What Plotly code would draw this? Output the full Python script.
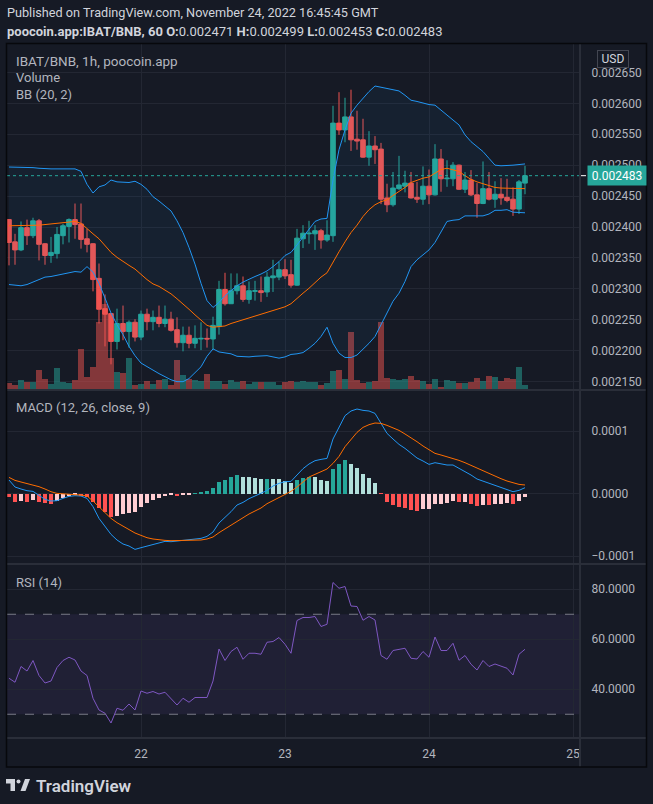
import pandas as pd
import plotly.graph_objects as go
from plotly.subplots import make_subplots

# ---------------- data (prices in millionths of BNB) ----------------
PRICE_UNIT = 1e-6
MACD_UNIT = 1e-6
start_time = "2022-11-21 02:00"

open_u = [2412,2376,2363,2399,2386,2410,2373,2354,2357,2386,2401,2412,2405,2381,2373,2317,2268,2260,2215,2244,
          2231,2246,2222,2259,2247,2254,2244,2251,2234,2213,2225,2212,2219,2220,2219,2239,2299,2276,2297,2305,
          2283,2296,2297,2295,2318,2319,2331,2323,2306,2381,2389,2389,2394,2379,2386,2568,2557,2578,2542,2541,
          2513,2531,2526,2447,2436,2462,2466,2471,2448,2445,2466,2452,2510,2478,2478,2500,2461,2476,2452,2438,
          2462,2445,2453,2448,2445,2429,2471]
high_u = [2413,2389,2409,2412,2415,2413,2374,2384,2400,2405,2414,2438,2438,2397,2374,2341,2291,2261,2268,2273,
          2249,2251,2265,2268,2265,2273,2273,2263,2254,2239,2239,2241,2246,2236,2255,2313,2326,2325,2325,2320,
          2312,2313,2320,2327,2347,2344,2348,2347,2397,2403,2410,2403,2397,2411,2596,2618,2609,2622,2588,2575,
          2555,2547,2536,2470,2489,2515,2491,2489,2473,2498,2493,2534,2526,2508,2505,2501,2489,2492,2471,2506,
          2489,2474,2479,2478,2464,2476,2499]
low_u = [2338,2339,2361,2371,2382,2346,2339,2342,2349,2372,2375,2381,2365,2359,2296,2244,2207,2178,2202,2217,
         2205,2215,2217,2233,2233,2238,2238,2231,2205,2199,2204,2204,2201,2205,2202,2226,2273,2276,2291,2279,
         2276,2281,2279,2287,2295,2314,2316,2302,2305,2366,2373,2363,2365,2376,2376,2549,2537,2523,2525,2512,
         2499,2502,2437,2424,2433,2460,2456,2446,2439,2436,2437,2451,2457,2465,2466,2460,2455,2450,2415,2437,
         2443,2431,2436,2440,2418,2421,2453]
close_u = [2375,2363,2399,2386,2410,2372,2354,2359,2388,2402,2412,2404,2380,2372,2315,2267,2259,2215,2244,2231,
           2246,2222,2259,2247,2254,2244,2251,2233,2213,2225,2212,2220,2220,2219,2241,2299,2276,2297,2305,2283,
           2297,2297,2294,2319,2321,2331,2321,2306,2382,2390,2390,2394,2379,2387,2568,2557,2578,2541,2539,2513,
           2531,2525,2445,2436,2463,2468,2471,2447,2445,2466,2452,2510,2478,2479,2500,2461,2476,2452,2438,2462,
           2445,2453,2447,2443,2429,2473,2483]
volume = [7,5,10,8,8,20,11,6,22,8, 7,10,41,13,23,68,86,32,18,17,
          32,5,6,9,6,10,11,5,30,15, 11,10,9,16,9,9,6,10,8,9,
          6,8,8,8,8,5,8,9,8,9, 8,8,5,7,19,20,11,58,10,7,
          8,9,68,12,11,10,11,14,10,9, 6,11,3,10,9,7,7,8,12,9,
          14,13,9,12,11,23,5]
bb_upper_u = [2497,2497,2497,2497,2496,2495,2494,2494,2494,2494,2494,2494,2490,2469,2455,2465,2468,2476,2473,2472,
              2472,2474,2469,2461,2449,2442,2434,2426,2410,2391,2367,2340,2309,2281,2270,2278,2289,2297,2305,2311,
              2316,2320,2324,2329,2336,2344,2354,2359,2371,2384,2395,2409,2413,2414,2476,2525,2557,2584,2597,2608,
              2619,2628,2626,2624,2623,2620,2613,2605,2603,2600,2598,2597,2589,2581,2573,2565,2549,2538,2530,2522,
              2511,2500,2499,2499,2500,2501,2502]
bb_basis_u = [2402,2402,2402,2402,2402,2403,2404,2405,2406,2407,2408,2409,2406,2397,2389,2381,2370,2359,2351,2344,
              2338,2332,2323,2315,2308,2304,2298,2292,2284,2276,2267,2258,2249,2241,2238,2239,2240,2244,2247,2250,
              2254,2256,2259,2262,2265,2269,2271,2276,2285,2293,2301,2310,2319,2326,2344,2360,2376,2391,2403,2417,
              2428,2436,2441,2444,2451,2457,2464,2472,2476,2479,2481,2487,2493,2495,2492,2490,2483,2477,2473,2470,
              2466,2464,2463,2463,2462,2462,2462]
bb_lower_u = [2307,2306,2305,2307,2311,2315,2319,2320,2322,2324,2327,2328,2327,2336,2327,2309,2285,2261,2242,2226,
              2207,2192,2180,2174,2168,2163,2158,2153,2150,2150,2155,2164,2174,2191,2203,2198,2197,2195,2191,2190,
              2190,2191,2192,2192,2190,2188,2190,2194,2195,2197,2204,2212,2223,2238,2212,2196,2189,2189,2193,2202,
              2212,2223,2242,2261,2280,2293,2312,2336,2347,2355,2363,2375,2392,2409,2411,2412,2418,2418,2418,2418,
              2421,2427,2427,2428,2424,2423,2423]
macd_u = [21.9,10.7,7.5,4.8,3.7,-2.1,-9.1,-11.7,-11.2,-7.5,
          -4.3,-3.2,-3.7,-7.5,-20.8,-39.5,-51.7,-65.1,-74.1,-80.5,
          -83.7,-89.1,-86.4,-83.7,-81.6,-78.9,-76.3,-76.8,-75.7,-74.7,
          -73.6,-73.1,-71.5,-68.3,-61.3,-46.9,-38.4,-28.8,-18.1,-13.9,
          -8.0,-3.7,0.0,5.0,12.3,16.5,19.2,19.7,29.9,40.0,
          47.5,52.8,54.9,56.5,87.5,106.0,124.8,132.3,135.5,133.3,
          132.3,128.5,112.5,96.5,87.5,78.9,72.5,64.5,57.1,52.3,
          46.9,49.6,47.5,45.9,45.9,40.5,36.3,29.9,23.5,20.3,
          16.5,13.9,10.7,7.5,3.2,5.3,9.6]
signal_u = [26.1,21.3,18.7,16.5,13.9,11.2,7.5,3.2,0.5,-0.5,
            -1.1,-1.6,-2.1,-3.7,-11.7,-21.3,-30.9,-39.5,-46.4,-52.3,
            -58.1,-62.9,-66.7,-70.4,-72.5,-74.1,-74.7,-75.2,-75.2,-75.2,
            -75.2,-74.7,-74.1,-72.5,-69.3,-62.4,-56.5,-50.1,-44.3,-37.9,
            -32.5,-27.7,-22.9,-16.0,-11.2,-5.9,-1.1,3.7,10.7,19.2,
            26.7,30.9,35.2,39.5,48.5,59.7,75.2,87.5,98.1,106.1,
            110.4,113.1,112.5,109.3,105.1,101.3,95.5,89.6,83.2,76.3,
            69.9,64.5,61.9,59.2,56.5,53.3,49.6,45.3,40.5,35.7,
            31.5,27.7,24.0,20.3,17.1,14.9,13.9]
hist_u = [-5.9,-13.3,-11.7,-13.9,-9.6,-12.8,-15.5,-16.0,-11.7,-6.4,
          -3.7,-2.0,-3.2,-4.8,-12.8,-22.4,-28.8,-36.5,-36.0,-33.0,
          -31.0,-28.8,-20.8,-15.5,-10.1,-6.4,-3.2,-2.1,-3.2,-1.6,
          -1.1,0.5,1.6,3.7,8.5,18.1,21.3,26.7,29.9,26.7,
          26.7,24.5,23.0,23.5,23.5,23.5,20.3,17.1,21.9,25.5,
          26.7,26.2,21.9,20.3,39.5,47.5,53.9,47.5,41.1,31.5,
          25.1,17.1,-0.5,-12.8,-18.1,-20.8,-22.4,-25.6,-27.2,-24.0,
          -24.0,-16.0,-16.0,-14.4,-11.2,-12.8,-12.8,-16.0,-19.2,-17.6,
          -18.0,-16.0,-16.0,-14.4,-16.0,-11.2,-4.8]
rsi = [44.4,42.8,49.1,47.3,51.5,45.5,42.5,43.3,48.7,51.5,
       52.8,51.7,47.3,45.5,36.4,31.7,30.4,26.5,32.4,31.6,
       34.1,31.7,39.3,38.4,39.1,38.1,38.8,36.1,33.7,36.4,
       34.8,36.7,36.7,36.7,43.3,56.1,51.5,55.1,56.8,52.0,
       54.4,54.4,54.0,58.8,59.1,60.7,58.0,54.4,67.5,68.7,
       68.7,69.1,65.1,66.0,82.7,80.4,81.1,73.3,73.1,67.6,
       69.1,67.7,53.5,52.0,55.5,55.9,56.4,52.4,52.1,55.1,
       52.8,60.9,55.5,55.5,58.4,51.6,53.5,50.0,47.7,51.5,
       49.1,50.1,49.1,48.4,45.7,54.0,56.0]

price_ticks_u = [2150, 2200, 2250, 2300, 2350, 2400, 2450, 2500, 2550, 2600, 2650]
macd_ticks = [1e-4, 0.0, -1e-4]
macd_tick_labels = ["0.0001", "0.0000", "\u22120.0001"]
rsi_ticks = [80, 60, 40]
rsi_tick_labels = ["80.0000", "60.0000", "40.0000"]
day_ticks = ["2022-11-22", "2022-11-23", "2022-11-24", "2022-11-25"]
day_labels = ["22", "23", "24", "25"]
last_price = 0.002483
rsi_upper, rsi_lower = 70, 30

header1 = "Published on TradingView.com, November 24, 2022 16:45:45 GMT"
header2 = ("<b>poocoin.app:IBAT/BNB, 60</b> <b>O:</b>0.002471 <b>H:</b>0.002499 "
           "<b>L:</b>0.002453 <b>C:</b>0.002483")

n = len(close_u)
assert all(len(a) == n for a in [open_u, high_u, low_u, volume, bb_upper_u, bb_basis_u,
                                  bb_lower_u, macd_u, signal_u, hist_u, rsi])
times = pd.date_range(start_time, periods=n, freq="h")
P = lambda arr: [v * PRICE_UNIT for v in arr]
M = lambda arr: [v * MACD_UNIT for v in arr]

# ---------------- style ----------------
BG = "#161a25"
GRID = "#232733"
SEP = "#2a2e39"
TXT = "#b2b5be"
TXT2 = "#d1d4dc"
TEAL = "#26a69a"
RED = "#ef5350"
BLUE = "#2196f3"
ORANGE = "#ff6d00"
PURPLE = "#7e57c2"
FONT = "Roboto"

W, H = 653, 804
L, R, T, B = 7, 73, 44, 66
PW, PH = W - L - R, H - T - B
PX = lambda px: (px - L) / PW
PY = lambda py: (H - B - py) / PH

up = [c >= o for o, c in zip(open_u, close_u)]
vol_colors = ["rgba(38,166,154,0.5)" if u else "rgba(239,83,80,0.5)" for u in up]
hist_colors = []
for i, h in enumerate(hist_u):
    prev = hist_u[i - 1] if i > 0 else 0
    if h >= 0:
        hist_colors.append("#26a69a" if h > prev else "#b2dfdb")
    else:
        hist_colors.append("#ff5252" if h < prev else "#ffcdd2")

fig = make_subplots(rows=3, cols=1, shared_xaxes=True, vertical_spacing=0,
                    row_heights=[346, 174, 174],
                    specs=[[{"secondary_y": True}], [{}], [{}]])

hour_ms = 3600 * 1000
fig.add_trace(go.Bar(x=times, y=volume, marker_color=vol_colors, marker_line_width=0,
                     width=0.85 * hour_ms, showlegend=False), row=1, col=1, secondary_y=False)
fig.add_trace(go.Scatter(x=times, y=P(bb_upper_u), mode="lines", line=dict(color=BLUE, width=1),
                         showlegend=False), row=1, col=1, secondary_y=True)
fig.add_trace(go.Scatter(x=times, y=P(bb_lower_u), mode="lines", line=dict(color=BLUE, width=1),
                         fill="tonexty", fillcolor="rgba(33,150,243,0.06)", showlegend=False),
              row=1, col=1, secondary_y=True)
fig.add_trace(go.Scatter(x=times, y=P(bb_basis_u), mode="lines", line=dict(color=ORANGE, width=1),
                         showlegend=False), row=1, col=1, secondary_y=True)
fig.add_trace(go.Candlestick(x=times, open=P(open_u), high=P(high_u), low=P(low_u), close=P(close_u),
                             increasing=dict(line=dict(color=TEAL, width=1), fillcolor=TEAL),
                             decreasing=dict(line=dict(color=RED, width=1), fillcolor=RED),
                             whiskerwidth=0, showlegend=False), row=1, col=1, secondary_y=True)

fig.add_trace(go.Bar(x=times, y=M(hist_u), marker_color=hist_colors, marker_line_width=0,
                     width=0.8 * hour_ms, showlegend=False), row=2, col=1)
fig.add_trace(go.Scatter(x=times, y=M(macd_u), mode="lines", line=dict(color=BLUE, width=1),
                         showlegend=False), row=2, col=1)
fig.add_trace(go.Scatter(x=times, y=M(signal_u), mode="lines", line=dict(color=ORANGE, width=1),
                         showlegend=False), row=2, col=1)

fig.add_trace(go.Scatter(x=times, y=rsi, mode="lines", line=dict(color=PURPLE, width=1),
                         showlegend=False), row=3, col=1)

x_range = ["2022-11-21 01:40", "2022-11-25 01:10"]
fig.update_xaxes(domain=[0, 1], range=x_range, showgrid=True, gridcolor=GRID, gridwidth=1, tickvals=day_ticks,
                 ticktext=day_labels, zeroline=False, showline=False, showticklabels=False,
                 rangeslider_visible=False, fixedrange=True)
fig.update_xaxes(showticklabels=True, ticks="outside", ticklen=5, tickcolor=BG,
                 tickfont=dict(family=FONT, size=12, color=TXT), row=3, col=1)

axis_common = dict(side="right", showgrid=True, gridcolor=GRID, gridwidth=1, zeroline=False,
                   showline=False, ticks="outside", ticklen=8, tickcolor=BG,
                   tickfont=dict(family=FONT, size=12, color=TXT), fixedrange=True)
fig.update_layout(
    width=W, height=H, autosize=False,
    margin=dict(l=L, r=R, t=T, b=B, pad=0),
    paper_bgcolor=BG, plot_bgcolor=BG,
    hovermode=False, showlegend=False, bargap=0,
    boxgap=0.1, boxgroupgap=0.15,
    yaxis=dict(range=[0, 346], visible=False, showgrid=False, domain=[348 / 694, 1], fixedrange=True),
    yaxis2=dict(range=[0.0021365, 0.0026959], tickvals=P(price_ticks_u),
                ticktext=[f"{v * PRICE_UNIT:.6f}" for v in price_ticks_u], **axis_common),
    yaxis3=dict(range=[-1.125e-4, 1.659e-4], tickvals=macd_ticks, ticktext=macd_tick_labels,
                domain=[174 / 694, 348 / 694], **axis_common),
    yaxis4=dict(range=[20.5, 90.1], tickvals=rsi_ticks, ticktext=rsi_tick_labels,
                domain=[0, 174 / 694], **axis_common),
)

shapes = []
# RSI band and levels
shapes.append(dict(type="rect", xref="x3 domain", x0=0, x1=1, yref="y4", y0=rsi_lower, y1=rsi_upper,
                   fillcolor="rgba(126,87,194,0.1)", line=dict(width=0), layer="below"))
for lvl in (rsi_upper, rsi_lower):
    shapes.append(dict(type="line", xref="x3 domain", x0=0, x1=1, yref="y4", y0=lvl, y1=lvl,
                       line=dict(color="#787b86", width=1, dash="dash")))
# last price dotted line
shapes.append(dict(type="line", xref="x domain", x0=0, x1=1, yref="y2", y0=last_price, y1=last_price,
                   line=dict(color=TEAL, width=1, dash="dot")))
# pane separators and frame
for py in (390, 564, 738):
    shapes.append(dict(type="line", xref="paper", yref="paper", x0=PX(7), x1=PX(646), y0=PY(py), y1=PY(py),
                       line=dict(color=SEP, width=2)))
shapes.append(dict(type="line", xref="paper", yref="paper", x0=PX(580), x1=PX(580), y0=PY(44), y1=PY(767),
                   line=dict(color=SEP, width=2)))
shapes.append(dict(type="rect", xref="paper", yref="paper", x0=PX(6.5), x1=PX(646.5), y0=PY(767),
                   y1=PY(43.5), line=dict(color="#07080c", width=1.5)))
# price tick marker
shapes.append(dict(type="line", xref="paper", yref="y2", x0=PX(581), x1=PX(586), y0=last_price,
                   y1=last_price, line=dict(color="white", width=1)))
# TradingView logo
LOGO = TXT2
shapes.append(dict(type="rect", xref="paper", yref="paper", x0=PX(6), x1=PX(15), y0=PY(783.5), y1=PY(779),
                   fillcolor=LOGO, line=dict(width=0)))
shapes.append(dict(type="rect", xref="paper", yref="paper", x0=PX(10.5), x1=PX(15), y0=PY(791), y1=PY(779),
                   fillcolor=LOGO, line=dict(width=0)))
shapes.append(dict(type="circle", xref="paper", yref="paper", x0=PX(16.5), x1=PX(20.5), y0=PY(783.5),
                   y1=PY(779.5), fillcolor=LOGO, line=dict(width=0)))
shapes.append(dict(type="path", xref="paper", yref="paper",
                   path=f"M {PX(20.5)},{PY(791)} L {PX(25)},{PY(779)} L {PX(30)},{PY(779)} L {PX(25.5)},{PY(791)} Z",
                   fillcolor=LOGO, line=dict(width=0)))
fig.update_layout(shapes=shapes)

ann = []
def text(px, py, s, size=13, color=TXT, **kw):
    ann.append(dict(xref="paper", yref="paper", x=PX(px), y=PY(py), text=s, showarrow=False,
                    xanchor="left", yanchor="middle", font=dict(family=FONT, size=size, color=color), **kw))

text(5, 12, header1, 12.7, TXT2)
text(5, 31, header2, 13, TXT2)
text(14, 61, "IBAT/BNB, 1h, poocoin.app", 13.5, TXT)
text(14, 78, "Volume", 13, TXT)
text(14, 95, "BB (20, 2)", 13, TXT)
text(14, 407, "MACD (12, 26, close, 9)", 13, TXT)
text(14, 582, "RSI (14)", 13, TXT)
text(34, 786, "TradingView", 17, TXT2)
ann[-1]["font"]["weight"] = 600
ann.append(dict(xref="paper", yref="paper", x=PX(613), y=PY(59), text="USD", showarrow=False,
                xanchor="center", yanchor="middle", font=dict(family=FONT, size=12, color=TXT2),
                bgcolor=BG, bordercolor="#434651", borderwidth=1, width=30, height=16, borderpad=0))
ann.append(dict(xref="paper", yref="y2", x=PX(587), y=last_price, text=f"{last_price:.6f}",
                showarrow=False, xanchor="left", yanchor="middle",
                font=dict(family=FONT, size=12, color="white"), bgcolor=TEAL,
                width=56, height=17, borderpad=1))
fig.update_layout(annotations=ann)

fig.write_html("out.html", config={"displayModeBar": False},
               post_script="document.body.style.margin='0px';")
